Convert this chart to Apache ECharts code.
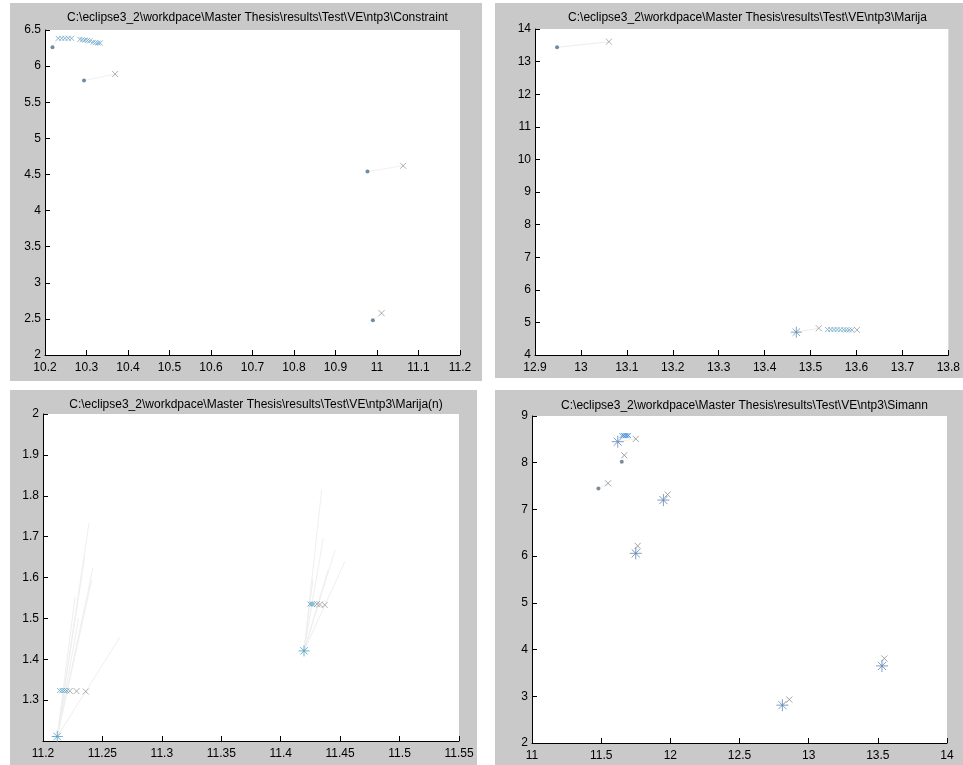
<!DOCTYPE html>
<html>
<head>
<meta charset="utf-8">
<script src="https://cdn.jsdelivr.net/npm/echarts@6/dist/echarts.min.js"></script>
<style>
html,body{margin:0;padding:0;background:#fff;}
#chart{width:963px;height:765px;}
</style>
</head>
<body>
<div id="chart"></div>
<script>
// ---- titles ----
const titles = [
  'C:\\eclipse3_2\\workdpace\\Master Thesis\\results\\Test\\VE\\ntp3\\Constraint',
  'C:\\eclipse3_2\\workdpace\\Master Thesis\\results\\Test\\VE\\ntp3\\Marija',
  'C:\\eclipse3_2\\workdpace\\Master Thesis\\results\\Test\\VE\\ntp3\\Marija(n)',
  'C:\\eclipse3_2\\workdpace\\Master Thesis\\results\\Test\\VE\\ntp3\\Simann'
];
// ---- axis ranges [min, max, interval] ----
const xRanges = [[10.2, 11.2, 0.1], [12.9, 13.8, 0.1], [11.2, 11.55, 0.05], [11, 14, 0.5]];
const yRanges = [[2, 6.5, 0.5], [4, 14, 1], [1.2, 2, 0.1], [2, 9, 1]];

// ---- panel 1: Constraint ----
const p1Dots = [[10.218, 6.26], [10.294, 5.80], [10.977, 4.54], [10.990, 2.48]];
const p1CrossBlue = [[10.232, 6.385], [10.240, 6.385], [10.248, 6.385], [10.256, 6.385], [10.264, 6.385],
  [10.284, 6.37], [10.290, 6.365], [10.296, 6.36], [10.302, 6.355], [10.308, 6.35],
  [10.316, 6.33], [10.322, 6.325], [10.328, 6.32], [10.333, 6.32]];
const p1CrossGray = [[10.369, 5.89], [11.063, 4.62], [11.011, 2.58]];
const p1Links = [[[10.218, 6.26], [10.232, 6.385]], [[10.294, 5.80], [10.369, 5.89]],
  [[10.977, 4.54], [11.063, 4.62]], [[10.990, 2.48], [11.011, 2.58]]];

// ---- panel 2: Marija ----
const p2Dots = [[12.948, 13.44]];
const p2Stars = [[13.469, 4.70]];
const p2CrossGray = [[13.061, 13.61], [13.518, 4.82], [13.601, 4.77]];
const p2CrossBlue = [[13.537, 4.78], [13.544, 4.78], [13.551, 4.78], [13.558, 4.78], [13.565, 4.775],
  [13.572, 4.775], [13.578, 4.77], [13.584, 4.77], [13.590, 4.77]];
const p2Links = [[[12.948, 13.44], [13.061, 13.61]], [[13.469, 4.70], [13.518, 4.82]]];

// ---- panel 3: Marija(n) ----
const p3Stars = [[11.212, 1.211], [11.4196, 1.4205]];
const p3CrossBlue = [[11.2140, 1.3235], [11.2160, 1.3235], [11.2180, 1.3235], [11.2200, 1.323],
  [11.4246, 1.535], [11.4262, 1.535], [11.4278, 1.535]];
const p3CrossGray = [[11.2225, 1.3225], [11.2282, 1.322], [11.2360, 1.321],
  [11.4305, 1.535], [11.4330, 1.534], [11.4370, 1.533]];
const p3Rays = [
  [[11.212, 1.211], [11.2387, 1.733]], [[11.212, 1.211], [11.2420, 1.623]],
  [[11.212, 1.211], [11.2410, 1.594]], [[11.212, 1.211], [11.2650, 1.455]],
  [[11.212, 1.211], [11.2270, 1.553]], [[11.212, 1.211], [11.2350, 1.650]],
  [[11.212, 1.211], [11.2300, 1.500]],
  [[11.4196, 1.4205], [11.4345, 1.815]], [[11.4196, 1.4205], [11.4358, 1.696]],
  [[11.4196, 1.4205], [11.4457, 1.667]], [[11.4196, 1.4205], [11.4540, 1.639]],
  [[11.4196, 1.4205], [11.4270, 1.594]], [[11.4196, 1.4205], [11.4400, 1.620]]
];

// ---- panel 4: Simann ----
const p4Dots = [[11.649, 8.02], [11.48, 7.45]];
const p4Stars = [[11.62, 8.45], [11.95, 7.20], [11.75, 6.06], [12.81, 2.81], [13.53, 3.65]];
const p4CrossBlue = [[11.650, 8.58], [11.662, 8.58], [11.674, 8.58], [11.686, 8.58], [11.698, 8.58]];
const p4CrossGray = [[11.75, 8.51], [11.667, 8.16], [11.55, 7.56], [11.98, 7.32], [11.764, 6.22],
  [12.86, 2.93], [13.547, 3.81]];
const p4Links = [[[11.62, 8.45], [11.75, 8.51]], [[11.649, 8.02], [11.667, 8.16]], [[11.48, 7.45], [11.55, 7.56]],
  [[11.95, 7.20], [11.98, 7.32]], [[11.75, 6.06], [11.764, 6.22]], [[12.81, 2.81], [12.86, 2.93]],
  [[13.53, 3.65], [13.547, 3.81]]];

// ---- layout ----
const grids = [
  {left: 45, top: 30, width: 415, height: 325},
  {left: 535, top: 29, width: 415, height: 326},
  {left: 43, top: 414, width: 416, height: 327},
  {left: 532, top: 416, width: 415, height: 327}
];
const panels = [
  {x: 10, y: 3, w: 472, h: 378},
  {x: 495, y: 3, w: 468, h: 375},
  {x: 10, y: 390, w: 467, h: 375},
  {x: 495, y: 390, w: 468, h: 375}
];
const titleY = [7, 7, 394, 395];

const SYM_X = 'path://M0 0L10 10M10 0L0 10';
const SYM_STAR = 'path://M5 0L5 10M0 5L10 5M1.6 1.6L8.4 8.4M8.4 1.6L1.6 8.4';
const fmt = v => String(Math.round(v * 1000) / 1000);

function crossSeries(data, idx, color, size) {
  return {type: 'scatter', xAxisIndex: idx, yAxisIndex: idx, data: data, symbol: SYM_X,
    symbolSize: size || 6, silent: true, z: 3,
    itemStyle: {color: 'rgba(0,0,0,0)', borderColor: color, borderWidth: 1}};
}
function starSeries(data, idx, color, size) {
  return {type: 'scatter', xAxisIndex: idx, yAxisIndex: idx, data: data, symbol: SYM_STAR,
    symbolSize: size || 11, silent: true, z: 4,
    itemStyle: {color: 'rgba(0,0,0,0)', borderColor: color, borderWidth: 1}};
}
function dotSeries(data, idx, color) {
  return {type: 'scatter', xAxisIndex: idx, yAxisIndex: idx, data: data, symbol: 'circle',
    symbolSize: 4, silent: true, z: 4, itemStyle: {color: color}};
}
function linkSeries(pairs, idx, color) {
  return {type: 'lines', coordinateSystem: 'cartesian2d', xAxisIndex: idx, yAxisIndex: idx,
    data: pairs.map(p => ({coords: p})), silent: true, z: 2,
    lineStyle: {color: color, width: 1, opacity: 1}};
}

const axisCommon = {
  axisLine: {show: true, onZero: false, lineStyle: {color: '#000', width: 1}},
  axisTick: {show: true, inside: true, length: 5, lineStyle: {color: '#000'}},
  splitLine: {show: false},
  axisLabel: {color: '#000', fontSize: 12, fontFamily: 'Liberation Sans, Arial, sans-serif', formatter: fmt}
};

const option = {
  backgroundColor: '#fff',
  animation: false,
  graphic: panels.map(p => ({type: 'rect', z: -10, silent: true,
    shape: {x: p.x, y: p.y, width: p.w, height: p.h}, style: {fill: '#c9c9c9'}})),
  title: titles.map((t, i) => ({
    text: t, left: grids[i].left + grids[i].width / 2, top: titleY[i], textAlign: 'center',
    textStyle: {fontSize: 12, fontWeight: 'normal', color: '#000', fontFamily: 'Liberation Sans, Arial, sans-serif'}
  })),
  grid: grids.map(g => Object.assign({show: true, backgroundColor: '#fff', borderWidth: 0, containLabel: false}, g)),
  xAxis: xRanges.map((r, i) => Object.assign({}, axisCommon, {
    type: 'value', gridIndex: i, min: r[0], max: r[1], interval: r[2],
    axisLabel: Object.assign({}, axisCommon.axisLabel, {margin: 7})
  })),
  yAxis: yRanges.map((r, i) => Object.assign({}, axisCommon, {
    type: 'value', gridIndex: i, min: r[0], max: r[1], interval: r[2],
    axisLabel: Object.assign({}, axisCommon.axisLabel, {margin: 4, showMinLabel: i !== 2})
  })),
  series: [
    linkSeries(p1Links, 0, '#f1f1f1'),
    dotSeries(p1Dots, 0, '#4a6f8c'),
    crossSeries(p1CrossBlue, 0, '#6fa6c8', 5),
    crossSeries(p1CrossGray, 0, '#9a9a9a', 6),

    linkSeries(p2Links, 1, '#ededed'),
    dotSeries(p2Dots, 1, '#4a6f8c'),
    starSeries(p2Stars, 1, '#5d8fb0', 11),
    crossSeries(p2CrossBlue, 1, '#6fa6c8', 5),
    crossSeries(p2CrossGray, 1, '#9a9a9a', 6),

    linkSeries(p3Rays, 2, '#efefef'),
    starSeries(p3Stars, 2, '#4f9cc0', 11),
    crossSeries(p3CrossBlue, 2, '#5fa8c8', 5),
    crossSeries(p3CrossGray, 2, '#9a9a9a', 6),

    linkSeries(p4Links, 3, '#f1f1f1'),
    dotSeries(p4Dots, 3, '#5f6f80'),
    starSeries(p4Stars, 3, '#5f84b4', 12),
    crossSeries(p4CrossBlue, 3, '#3a8ad0', 5),
    crossSeries(p4CrossGray, 3, '#8f8f8f', 6)
  ]
};

const chart = echarts.init(document.getElementById('chart'), null, {renderer: 'canvas'});
chart.setOption(option);
</script>
</body>
</html>
